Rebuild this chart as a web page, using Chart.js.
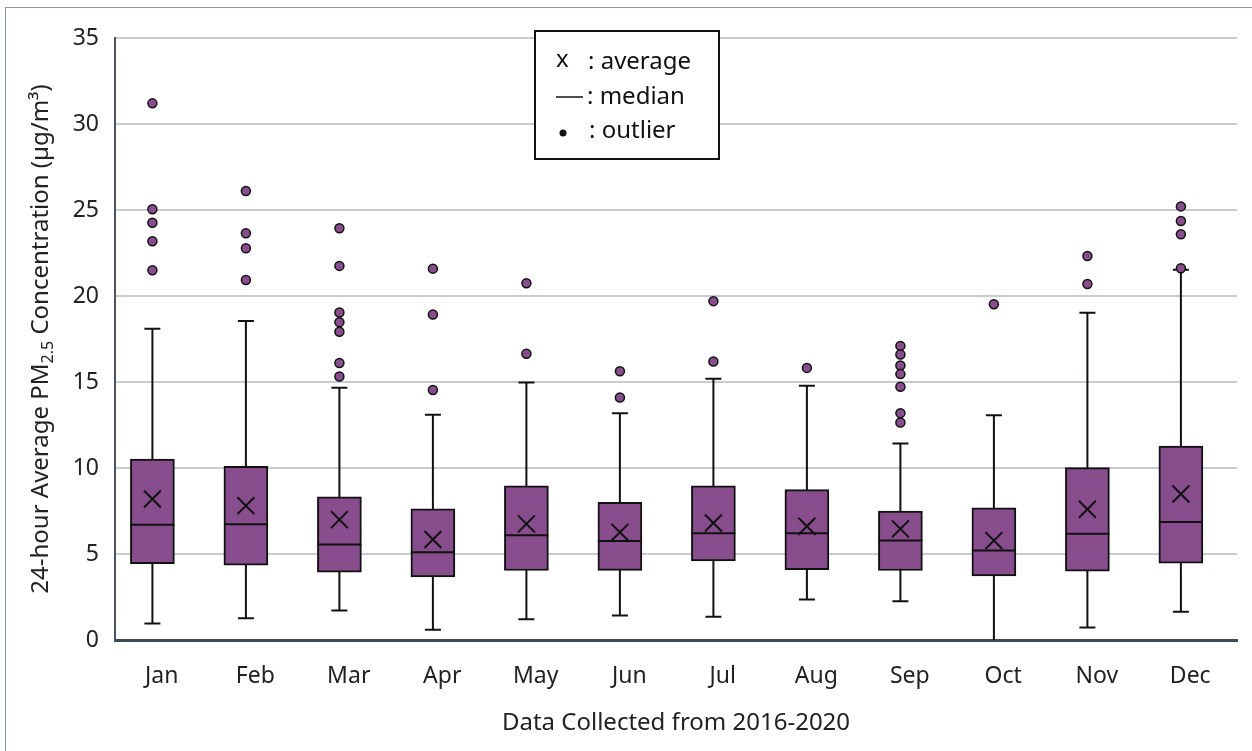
<!DOCTYPE html>
<html>
<head>
<meta charset="utf-8">
<script src="https://cdn.jsdelivr.net/npm/chart.js@4/dist/chart.umd.min.js"></script>
<style>
  body { margin: 0; background: #fff; }
  #wrap { position: relative; width: 1252px; height: 751px; overflow: hidden; }
  #marco { position: absolute; left: 5px; top: 7px; width: 1300px; height: 800px; border: 1px solid #8b97a4; pointer-events: none; }
</style>
</head>
<body>
<div id="wrap">
  <canvas id="miGrafico" width="1252" height="751"></canvas>
  <div id="marco"></div>
</div>
<script>
// datos (PM2.5, 2016-2020)
const meses = ["Jan", "Feb", "Mar", "Apr", "May", "Jun", "Jul", "Aug", "Sep", "Oct", "Nov", "Dec"];
const bigoteMin = [0.96, 1.27, 1.71, 0.59, 1.21, 1.42, 1.35, 2.35, 2.25, 0, 0.73, 1.64];
const cuartil1 = [4.44, 4.35, 3.94, 3.67, 4.04, 4.05, 4.6, 4.09, 4.04, 3.73, 4.0, 4.46];
const medianas = [6.7, 6.73, 5.55, 5.1, 6.09, 5.76, 6.2, 6.2, 5.78, 5.2, 6.18, 6.86];
const cuartil3 = [10.52, 10.1, 8.33, 7.62, 8.97, 8.0, 8.97, 8.74, 7.5, 7.68, 10.02, 11.28];
const bigoteMax = [18.1, 18.55, 14.67, 13.1, 14.97, 13.19, 15.19, 14.78, 11.43, 13.06, 19.02, 21.53];
const promedios = [8.2, 7.81, 7.0, 5.84, 6.75, 6.26, 6.8, 6.61, 6.46, 5.78, 7.6, 8.49];
const atipicos = [
  [31.2, 25.04, 24.26, 23.18, 21.5],
  [26.1, 23.65, 22.78, 20.93],
  [23.94, 21.75, 19.04, 18.48, 17.92, 16.1, 15.32],
  [21.59, 18.92, 14.53],
  [20.74, 16.64],
  [15.63, 14.1],
  [19.7, 16.19],
  [15.82],
  [17.1, 16.6, 15.96, 15.46, 14.72, 13.19, 12.65],
  [19.52],
  [22.33, 20.7],
  [25.21, 24.36, 23.59, 21.61]
];
const yTicks = [0, 5, 10, 15, 20, 25, 30, 35];

const morado = "#874d8d";
const negro = "#111111";
const fuente = "'Noto Sans', 'Open Sans', sans-serif";

// las cajas van un poco a la izquierda de las etiquetas, como en el original
const posX = meses.map((m, i) => i + 1);

const puntosAtipicos = [];
atipicos.forEach((lista, i) => lista.forEach((v) => puntosAtipicos.push({ x: posX[i], y: v })));

// bigotes debajo de las cajas, medianas encima
const cajaPlugin = {
  id: "cajas",
  beforeDatasetDraw(chart, args) {
    if (args.index !== 0) return;
    const ctx = chart.ctx;
    const x = chart.scales.xp;
    const y = chart.scales.y;
    ctx.save();
    ctx.strokeStyle = negro;
    ctx.lineWidth = 2;
    meses.forEach((m, i) => {
      const px = x.getPixelForValue(posX[i]);
      ctx.beginPath();
      ctx.moveTo(px, y.getPixelForValue(bigoteMin[i]));
      ctx.lineTo(px, y.getPixelForValue(bigoteMax[i]));
      [bigoteMin[i], bigoteMax[i]].forEach((v) => {
        if (v <= 0) return;
        const py = y.getPixelForValue(v);
        ctx.moveTo(px - 8, py);
        ctx.lineTo(px + 8, py);
      });
      ctx.stroke();
    });
    ctx.restore();
  },
  afterDatasetDraw(chart, args) {
    if (args.index !== 0) return;
    const ctx = chart.ctx;
    const y = chart.scales.y;
    const meta = chart.getDatasetMeta(0);
    ctx.save();
    ctx.strokeStyle = negro;
    ctx.lineWidth = 2;
    meta.data.forEach((bar, i) => {
      const py = y.getPixelForValue(medianas[i]);
      ctx.beginPath();
      ctx.moveTo(bar.x - bar.width / 2, py);
      ctx.lineTo(bar.x + bar.width / 2, py);
      ctx.stroke();
    });
    ctx.restore();
  },
  afterDraw(chart) {
    const ctx = chart.ctx;
    const area = chart.chartArea;
    ctx.save();
    // titulo del eje y con subindice
    ctx.translate(41, (area.top + area.bottom) / 2);
    ctx.rotate(-Math.PI / 2);
    ctx.fillStyle = "#222";
    ctx.textBaseline = "middle";
    const partes = [
      ["24-hour Average PM", 24, 0],
      ["2.5", 16, 7],
      [" Concentration (µg/m³)", 24, 0]
    ];
    let total = 0;
    partes.forEach((p) => { ctx.font = p[1] + "px " + fuente; total += ctx.measureText(p[0]).width; });
    let cx = -total / 2;
    partes.forEach((p) => {
      ctx.font = p[1] + "px " + fuente;
      ctx.fillText(p[0], cx, p[2]);
      cx += ctx.measureText(p[0]).width;
    });
    ctx.restore();

    // leyenda propia
    ctx.save();
    ctx.fillStyle = "#fff";
    ctx.fillRect(535, 31, 184, 128);
    ctx.strokeStyle = negro;
    ctx.lineWidth = 2;
    ctx.strokeRect(535, 31, 184, 128);
    ctx.fillStyle = negro;
    ctx.font = "24px " + fuente;
    ctx.textBaseline = "middle";
    ctx.fillText("x", 556, 60);
    ctx.fillText(": average", 588, 62);
    ctx.beginPath();
    ctx.moveTo(556, 97);
    ctx.lineTo(583, 97);
    ctx.lineWidth = 1.5;
    ctx.stroke();
    ctx.fillText(": median", 587, 97);
    ctx.beginPath();
    ctx.arc(563, 133, 3.5, 0, Math.PI * 2);
    ctx.fill();
    ctx.fillText(": outlier", 589, 131);
    ctx.restore();
  }
};

const ctx = document.getElementById("miGrafico").getContext("2d");
new Chart(ctx, {
  type: "bar",
  data: {
    labels: meses,
    datasets: [
      {
        label: "caja",
        data: meses.map((m, i) => ({ x: posX[i], y: [cuartil1[i], cuartil3[i]] })),
        xAxisID: "xp",
        backgroundColor: morado,
        borderColor: negro,
        borderWidth: 2,
        borderSkipped: false,
        barThickness: 44,
        order: 3
      },
      {
        label: "outlier",
        type: "line",
        xAxisID: "xp",
        data: puntosAtipicos,
        showLine: false,
        pointRadius: 4.5,
        pointBackgroundColor: morado,
        pointBorderColor: negro,
        pointBorderWidth: 1.5,
        order: 2
      },
      {
        label: "average",
        type: "line",
        xAxisID: "xp",
        data: promedios.map((v, i) => ({ x: posX[i], y: v })),
        showLine: false,
        pointStyle: "crossRot",
        pointRadius: 12,
        pointBorderColor: negro,
        pointBorderWidth: 2,
        order: 1
      }
    ]
  },
  options: {
    responsive: false,
    animation: false,
    layout: { padding: { top: 38, right: 15, left: 0, bottom: 0 } },
    plugins: {
      legend: { display: false },
      tooltip: { enabled: false }
    },
    scales: {
      x: {
        type: "category",
        grid: { display: false, drawTicks: false },
        border: { display: true, color: "#3f4a57", width: 3 },
        ticks: { color: "#222", font: { family: fuente, size: 23 }, padding: 23 },
        title: {
          display: true,
          text: "Data Collected from 2016-2020",
          color: "#222",
          font: { family: fuente, size: 24 },
          padding: { top: 0, bottom: 13 }
        },
        afterFit: (s) => { s.height = 111; }
      },
      xp: {
        type: "linear",
        display: false,
        offset: false,
        min: 0.6,
        max: 12.6,
        grid: { display: false, offset: false }
      },
      y: {
        min: 0,
        max: 35,
        afterBuildTicks: (s) => { s.ticks = yTicks.map((v) => ({ value: v })); },
        grid: { color: "#c9cbd2", lineWidth: 2, drawTicks: false },
        border: { display: true, color: "#4a5563", width: 2 },
        ticks: { color: "#222", font: { family: fuente, size: 23 }, padding: 16 },
        afterFit: (s) => { s.width = 115; }
      }
    }
  },
  plugins: [cajaPlugin]
});
</script>
</body>
</html>
